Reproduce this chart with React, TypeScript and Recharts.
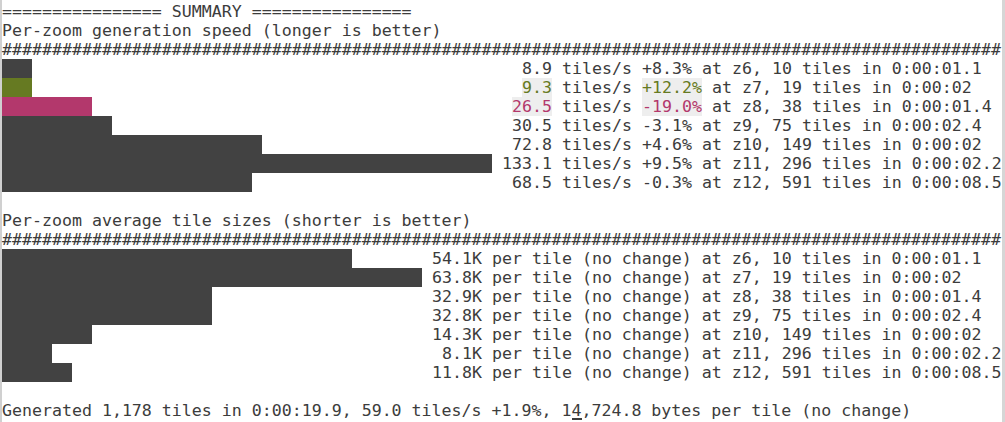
import { BarChart, Bar, XAxis, YAxis, Cell, LabelList } from 'recharts';

// terminal grid
const FONT = '"DejaVu Sans Mono", "Liberation Mono", monospace';
const FONT_SIZE = 16.6;
const COLS = 100;
const CHAR_W = 10;
const ROW_H = 19;
const BASELINE = 15.2;

const INK = '#3c3c3c';
const BAR = '#424242';
const GOOD = '#667a22';
const BAD = '#b3386c';
const HILITE = '#eeeeee';

// data
const ZOOMS = ['z6', 'z7', 'z8', 'z9', 'z10', 'z11', 'z12'];
const TILE_COUNTS = [10, 19, 38, 75, 149, 296, 591];
const DURATIONS = ['0:00:01.1', '0:00:02', '0:00:01.4', '0:00:02.4', '0:00:02', '0:00:02.2', '0:00:08.5'];
const SPEED = [8.9, 9.3, 26.5, 30.5, 72.8, 133.1, 68.5];
const SPEED_CHANGE = ['+8.3%', '+12.2%', '-19.0%', '-3.1%', '+4.6%', '+9.5%', '-0.3%'];
const SPEED_MARK = ['', 'better', 'worse', '', '', '', ''];
const SIZE_K = [54.1, 63.8, 32.9, 32.8, 14.3, 8.1, 11.8];
const SIZE_CHANGE = ['no change', 'no change', 'no change', 'no change', 'no change', 'no change', 'no change'];

const TOTAL_TILES = '1,178';
const TOTAL_TIME = '0:00:19.9';
const TOTAL_SPEED = '59.0';
const TOTAL_SPEED_CHANGE = '+1.9%';
const BYTES_PER_TILE = '14,724.8';
const BYTES_CHANGE = 'no change';

type Seg = { text: string; color?: string; bg?: boolean };

const pad = (s: string, n: number) => ' '.repeat(Math.max(0, n - s.length));

const speedNums = SPEED.map(v => v.toFixed(1));
const speedNumW = Math.max(...speedNums.map(s => s.length));
const speedSegs: Seg[][] = SPEED.map((_, i) => {
  const color = SPEED_MARK[i] === 'better' ? GOOD : SPEED_MARK[i] === 'worse' ? BAD : undefined;
  return [
    { text: pad(speedNums[i], speedNumW) },
    { text: speedNums[i], color, bg: !!color },
    { text: ' tiles/s ' },
    { text: SPEED_CHANGE[i], color, bg: !!color },
    { text: ` at ${ZOOMS[i]}, ${TILE_COUNTS[i]} tiles in ${DURATIONS[i]}` },
  ];
});

const sizeNums = SIZE_K.map(v => `${v.toFixed(1)}K`);
const sizeNumW = Math.max(...sizeNums.map(s => s.length));
const sizeSegs: Seg[][] = SIZE_K.map((_, i) => [
  { text: pad(sizeNums[i], sizeNumW) + sizeNums[i] },
  { text: ` per tile (${SIZE_CHANGE[i]}) at ${ZOOMS[i]}, ${TILE_COUNTS[i]} tiles in ${DURATIONS[i]}` },
]);

const segLen = (segs: Seg[]) => segs.reduce((s, g) => s + g.text.length, 0);

// bar columns = what is left of the line after the longest label and one space
function buildRows(values: number[], segs: Seg[][]) {
  const labelW = Math.max(...segs.map(segLen));
  const barCols = COLS - labelW - 1;
  const max = Math.max(...values);
  return {
    labelCol: barCols + 1,
    rows: values.map((v, i) => ({ zoom: ZOOMS[i], idx: i, cells: Math.floor((v / max) * barCols) })),
  };
}

const speed = buildRows(SPEED, speedSegs);
const size = buildRows(SIZE_K, sizeSegs);

function RowText({ props, segs, col }: { props: any; segs: Seg[][]; col: number }) {
  const vb = props.viewBox ?? props;
  const top = vb.y ?? props.y;
  const i = props.value ?? props.index;
  const line = segs[i];
  if (!line) return null;
  let c = col;
  const placed = line.map(g => {
    const p = { ...g, col: c };
    c += g.text.length;
    return p;
  });
  return (
    <g>
      {placed.filter(p => p.bg).map((p, k) => (
        <rect key={`b${k}`} x={p.col * CHAR_W} y={top} width={p.text.length * CHAR_W} height={ROW_H} fill={HILITE} />
      ))}
      {placed.map((p, k) => (
        <text
          key={`t${k}`}
          x={p.col * CHAR_W}
          y={top + BASELINE}
          fill={p.color ?? INK}
          fontFamily={FONT}
          fontSize={FONT_SIZE}
          xmlSpace="preserve"
          style={{ whiteSpace: 'pre' }}
        >
          {p.text}
        </text>
      ))}
    </g>
  );
}

function TermBars({ rows, segs, col, colors }: {
  rows: { zoom: string; idx: number; cells: number }[];
  segs: Seg[][];
  col: number;
  colors: string[];
}) {
  return (
    <BarChart
      width={COLS * CHAR_W}
      height={rows.length * ROW_H}
      data={rows}
      layout="vertical"
      margin={{ top: 0, right: 0, bottom: 0, left: 0 }}
      barCategoryGap={0}
    >
      <XAxis type="number" domain={[0, COLS]} hide />
      <YAxis type="category" dataKey="zoom" hide />
      <Bar dataKey="cells" isAnimationActive={false}>
        {rows.map((_, i) => <Cell key={i} fill={colors[i]} />)}
        <LabelList dataKey="idx" content={(p: any) => <RowText props={p} segs={segs} col={col} />} />
      </Bar>
    </BarChart>
  );
}

const lineStyle = (row: number): React.CSSProperties => ({
  position: 'absolute',
  left: 2,
  top: 2 + row * ROW_H,
  height: ROW_H,
  lineHeight: `${ROW_H}px`,
  fontFamily: FONT,
  fontSize: FONT_SIZE,
  color: INK,
  whiteSpace: 'pre',
});

export default function App() {
  const speedColors = SPEED_MARK.map(m => (m === 'better' ? GOOD : m === 'worse' ? BAD : BAR));
  const sizeColors = SIZE_K.map(() => BAR);
  const summary = `Generated ${TOTAL_TILES} tiles in ${TOTAL_TIME}, ${TOTAL_SPEED} tiles/s ${TOTAL_SPEED_CHANGE}, ${BYTES_PER_TILE} bytes per tile (${BYTES_CHANGE})`;
  const cursorCol = summary.indexOf(BYTES_PER_TILE) + 1;

  return (
    <div style={{ position: 'absolute', left: 0, top: 0, width: 1005, height: 422, background: '#fff', overflow: 'hidden' }}>
      <div style={{ position: 'absolute', left: 0, top: 0, width: 2, height: 422, background: '#d0d0d0' }} />
      <div style={{ position: 'absolute', left: 1002, top: 0, width: 3, height: 422, background: '#d6d6d6' }} />

      <div style={lineStyle(0)}>{'================ SUMMARY ================'}</div>
      <div style={lineStyle(1)}>Per-zoom generation speed (longer is better)</div>
      <div style={lineStyle(2)}>{'#'.repeat(COLS)}</div>
      <div style={{ position: 'absolute', left: 2, top: 2 + 3 * ROW_H }}>
        <TermBars rows={speed.rows} segs={speedSegs} col={speed.labelCol} colors={speedColors} />
      </div>

      <div style={lineStyle(11)}>Per-zoom average tile sizes (shorter is better)</div>
      <div style={lineStyle(12)}>{'#'.repeat(COLS)}</div>
      <div style={{ position: 'absolute', left: 2, top: 2 + 13 * ROW_H }}>
        <TermBars rows={size.rows} segs={sizeSegs} col={size.labelCol} colors={sizeColors} />
      </div>

      <div style={lineStyle(21)}>{summary}</div>
      <div
        style={{
          position: 'absolute',
          left: 2 + cursorCol * CHAR_W,
          top: 2 + 22 * ROW_H - 2,
          width: CHAR_W,
          height: 2,
          background: INK,
        }}
      />
    </div>
  );
}
